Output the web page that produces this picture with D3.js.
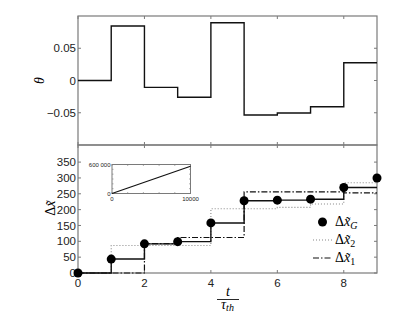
<!DOCTYPE html>
<html>
<head>
    <meta charset="UTF-8" />
    <script src="https://d3js.org/d3.v7.min.js"></script>
    <style>
        body { margin: 0; background: #fff; }
        text { font-family: "Liberation Sans", Arial, sans-serif; }
        .tex { font-family: "Liberation Serif", "DejaVu Serif", serif; }
    </style>
</head>
<body>
<div id="chart"></div>
<script>
    // step index (in units of tau_th)
    const steps = [0, 1, 2, 3, 4, 5, 6, 7, 8, 9];
    // theta per interval [i, i+1)
    const theta = [0, 0.0845, -0.0106, -0.026, 0.0896, -0.0535, -0.0504, -0.0406, 0.0276];
    // Delta x_G measured at each integer step
    const dxG = [0, 44, 92, 99, 158, 228, 230, 233, 270, 300];
    // Delta x_2 and Delta x_1 per interval [i, i+1)
    const dx2 = [0, 87, 87, 87, 203, 203, 207, 218, 285];
    const dx1 = [0, 0, 93, 112, 112, 256, 256, 256, 253];
    // inset: linear growth over long time
    const insetT = [0, 10000];
    const insetX = [0, 565000];

    const xTicks = [0, 2, 4, 6, 8];
    const thetaTicks = [-0.05, 0, 0.05];
    const dxTicks = [0, 50, 100, 150, 200, 250, 300, 350];

    const W = 415, H = 315;
    const svg = d3.select("#chart").append("svg")
        .attr("width", W).attr("height", H);

    const x = d3.scaleLinear().domain([0, 9]).range([78, 377]);
    const yTop = d3.scaleLinear().domain([-0.1, 0.1]).range([145, 16]);
    const yBot = d3.scaleLinear().domain([0, 404]).range([273, 145]);

    const frameColor = "#7a7a7a";
    const fmtTheta = d => d === 0 ? "0" : d3.format(".2f")(d).replace("-", "\u2212");

    // step series -> points for a post-step line
    function stepPts(vals) {
        return vals.map((v, i) => [i, v]).concat([[vals.length, vals[vals.length - 1]]]);
    }

    function panel(y, yticks, fmt) {
        const g = svg.append("g");
        const [y0, y1] = y.range();
        g.append("rect")
            .attr("x", x(0)).attr("y", y1)
            .attr("width", x(9) - x(0)).attr("height", y0 - y1)
            .attr("fill", "none").attr("stroke", frameColor).attr("stroke-width", 1.2);
        yticks.forEach(t => {
            g.append("line").attr("x1", x(0)).attr("x2", x(0) + 3)
                .attr("y1", y(t)).attr("y2", y(t)).attr("stroke", frameColor);
            g.append("line").attr("x1", x(9)).attr("x2", x(9) - 3)
                .attr("y1", y(t)).attr("y2", y(t)).attr("stroke", frameColor);
            g.append("text").attr("x", x(0) - 2).attr("y", y(t))
                .attr("dy", "0.36em").attr("text-anchor", "end")
                .attr("font-size", 11.5).attr("fill", "#222").text(fmt(t));
        });
        xTicks.forEach(t => {
            g.append("line").attr("x1", x(t)).attr("x2", x(t))
                .attr("y1", y0).attr("y2", y0 - 3).attr("stroke", frameColor);
            g.append("line").attr("x1", x(t)).attr("x2", x(t))
                .attr("y1", y1).attr("y2", y1 + 3).attr("stroke", frameColor);
        });
        return g;
    }

    // top panel
    panel(yTop, thetaTicks, fmtTheta);
    svg.append("path")
        .datum(stepPts(theta))
        .attr("fill", "none").attr("stroke", "#111").attr("stroke-width", 1.4)
        .attr("d", d3.line().curve(d3.curveStepAfter).x(d => x(d[0])).y(d => yTop(d[1])));

    svg.append("text").attr("class", "tex")
        .attr("transform", `translate(44,${yTop(0)}) rotate(-90)`)
        .attr("text-anchor", "middle").attr("font-size", 14).attr("font-style", "italic")
        .text("θ");

    // bottom panel
    panel(yBot, dxTicks, d => d);

    const line = d3.line().curve(d3.curveStepAfter).x(d => x(d[0])).y(d => yBot(d[1]));

    svg.append("path").datum(stepPts(dx2))
        .attr("fill", "none").attr("stroke", "#888").attr("stroke-width", 1.1)
        .attr("stroke-dasharray", "1,2").attr("d", line);
    svg.append("path").datum(stepPts(dx1))
        .attr("fill", "none").attr("stroke", "#111").attr("stroke-width", 1.2)
        .attr("stroke-dasharray", "6,2,1.5,2").attr("d", line);
    svg.append("path").datum(dxG.slice(0, 9).map((v, i) => [i, v]).concat([[9, dxG[8]]]))
        .attr("fill", "none").attr("stroke", "#111").attr("stroke-width", 1.4).attr("d", line);
    svg.append("g").selectAll("circle").data(dxG).join("circle")
        .attr("cx", (d, i) => x(steps[i])).attr("cy", d => yBot(d))
        .attr("r", 4.5).attr("fill", "#000");

    // x tick labels
    xTicks.forEach(t => {
        svg.append("text").attr("x", x(t)).attr("y", 287)
            .attr("text-anchor", "middle").attr("font-size", 11.5).attr("fill", "#222").text(t);
    });

    // y label Δx̃
    svg.append("text").attr("class", "tex")
        .attr("transform", `translate(55,${yBot(205)}) rotate(-90)`)
        .attr("text-anchor", "middle").attr("font-size", 14)
        .html('Δ<tspan font-style="italic">x\u0303</tspan>');

    // x label t / tau_th
    const xl = svg.append("g").attr("class", "tex");
    xl.append("text").attr("class", "tex").attr("x", 228).attr("y", 296)
        .attr("text-anchor", "middle").attr("font-size", 14).attr("font-style", "italic").text("t");
    xl.append("line").attr("x1", 217).attr("x2", 239).attr("y1", 299.5).attr("y2", 299.5)
        .attr("stroke", "#111").attr("stroke-width", 0.9);
    xl.append("text").attr("class", "tex").attr("x", 227.5).attr("y", 309)
        .attr("text-anchor", "middle").attr("font-size", 14).attr("font-style", "italic")
        .html('τ<tspan font-size="10" dy="2">th</tspan>');

    // legend
    const legend = [
        { sub: "G", kind: "dot" },
        { sub: "2", kind: "dotted" },
        { sub: "1", kind: "dashdot" }
    ];
    const lg = svg.append("g");
    legend.forEach((d, i) => {
        const ly = 222 + i * 18;
        if (d.kind === "dot") {
            lg.append("circle").attr("cx", 322.5).attr("cy", ly).attr("r", 4.5).attr("fill", "#000");
        } else {
            lg.append("line").attr("x1", 313).attr("x2", 332).attr("y1", ly).attr("y2", ly)
                .attr("stroke", d.kind === "dotted" ? "#888" : "#111")
                .attr("stroke-width", d.kind === "dotted" ? 1.1 : 1.2)
                .attr("stroke-dasharray", d.kind === "dotted" ? "1,2" : "6,2,1.5,2");
        }
        lg.append("text").attr("class", "tex").attr("x", 335).attr("y", ly + 4)
            .attr("font-size", 14)
            .html(`Δ<tspan font-style="italic">x\u0303</tspan><tspan font-size="10" dy="3" font-style="${d.sub === "G" ? "italic" : "normal"}">${d.sub}</tspan>`);
    });

    // inset
    const ix = d3.scaleLinear().domain([0, 10000]).range([112, 190.5]);
    const iy = d3.scaleLinear().domain([0, 600000]).range([193.5, 164.5]);
    const ig = svg.append("g");
    ig.append("rect").attr("x", ix(0)).attr("y", iy(600000))
        .attr("width", ix(10000) - ix(0)).attr("height", iy(0) - iy(600000))
        .attr("fill", "#fff").attr("stroke", frameColor).attr("stroke-width", 1);
    d3.range(0, 10001, 2000).forEach(t => {
        ig.append("line").attr("x1", ix(t)).attr("x2", ix(t))
            .attr("y1", iy(0)).attr("y2", iy(0) - 1.5).attr("stroke", frameColor).attr("stroke-width", 0.6);
        ig.append("line").attr("x1", ix(t)).attr("x2", ix(t))
            .attr("y1", iy(600000)).attr("y2", iy(600000) + 1.5).attr("stroke", frameColor).attr("stroke-width", 0.6);
    });
    d3.range(0, 600001, 100000).forEach(t => {
        ig.append("line").attr("x1", ix(0)).attr("x2", ix(0) + 1.5)
            .attr("y1", iy(t)).attr("y2", iy(t)).attr("stroke", frameColor).attr("stroke-width", 0.6);
        ig.append("line").attr("x1", ix(10000)).attr("x2", ix(10000) - 1.5)
            .attr("y1", iy(t)).attr("y2", iy(t)).attr("stroke", frameColor).attr("stroke-width", 0.6);
    });
    ig.append("path").datum(insetT.map((t, i) => [t, insetX[i]]))
        .attr("fill", "none").attr("stroke", "#111").attr("stroke-width", 1.2)
        .attr("d", d3.line().x(d => ix(d[0])).y(d => iy(d[1])));
    const its = 6;
    ig.append("text").attr("x", ix(0) - 1.5).attr("y", iy(600000) + 2).attr("text-anchor", "end")
        .attr("font-size", its).attr("fill", "#222").text("600 000");
    ig.append("text").attr("x", ix(0) - 1.5).attr("y", iy(0) + 2).attr("text-anchor", "end")
        .attr("font-size", its).attr("fill", "#222").text("0");
    ig.append("text").attr("x", ix(0)).attr("y", iy(0) + 7).attr("text-anchor", "middle")
        .attr("font-size", its).attr("fill", "#222").text("0");
    ig.append("text").attr("x", ix(10000)).attr("y", iy(0) + 7).attr("text-anchor", "middle")
        .attr("font-size", its).attr("fill", "#222").text("10000");
</script>
</body>
</html>
